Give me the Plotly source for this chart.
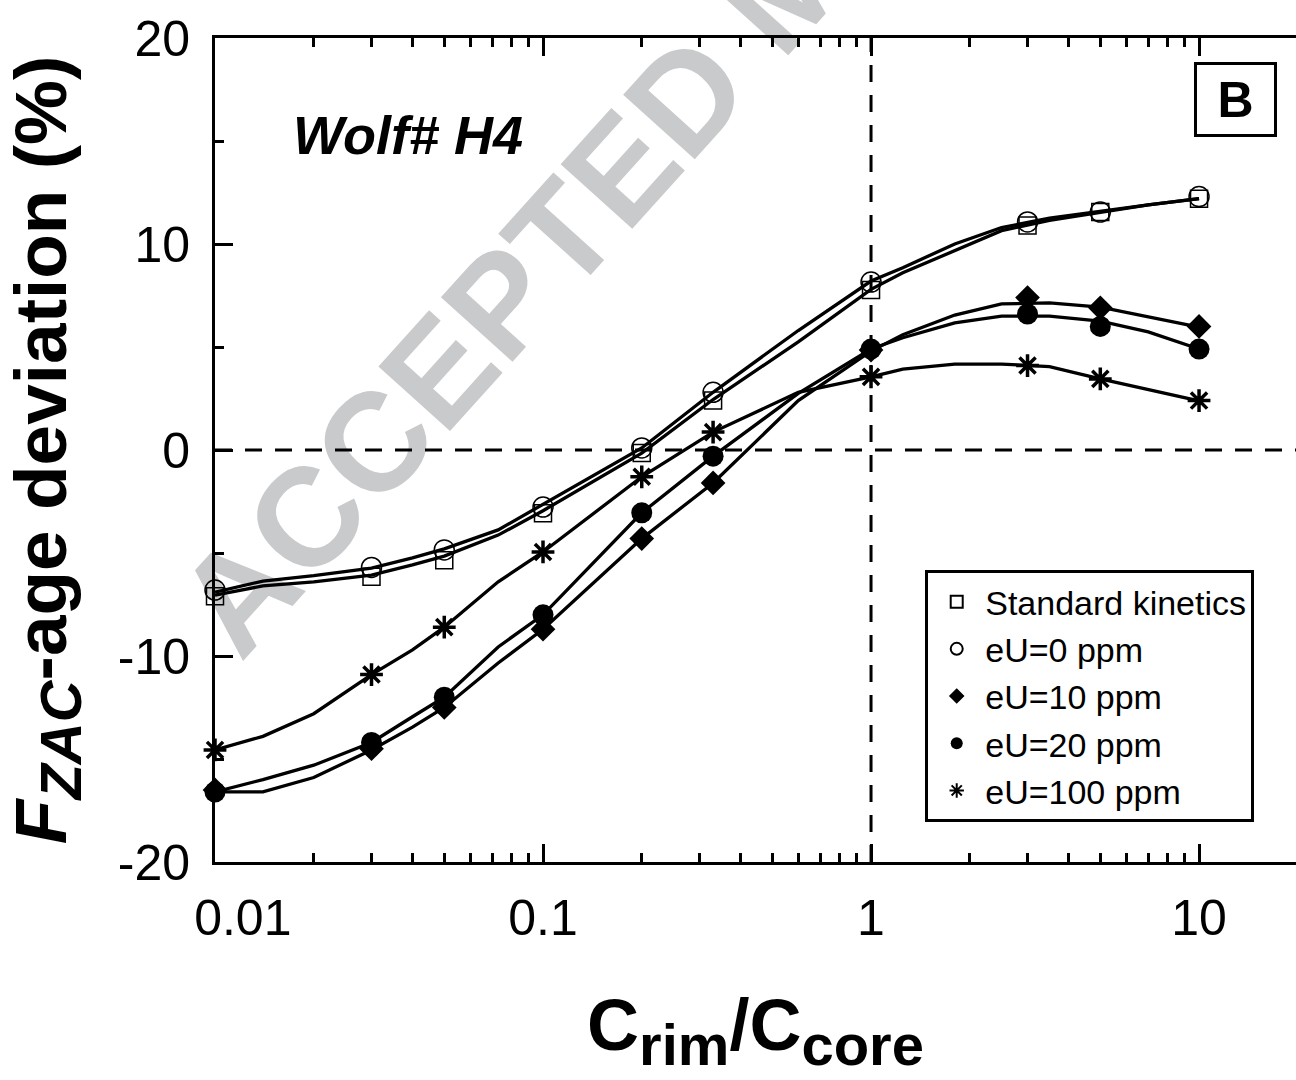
import plotly.graph_objects as go

# ---------------- data ----------------
x_pts = [0.01, 0.03, 0.05, 0.1, 0.2, 0.33, 1, 3, 5, 10]
std_pts = [-7.1, -6.15, -5.35, -3.07, -0.15, 2.4, 7.77, 10.9, 11.55, 12.2]
eu0_pts = [-6.8, -5.7, -4.85, -2.77, 0.1, 2.8, 8.15, 11.07, 11.55, 12.3]
eu10_pts = [-16.5, -14.5, -12.5, -8.7, -4.3, -1.6, 4.85, 7.4, 6.9, 6.0]
eu20_pts = [-16.6, -14.2, -12.0, -8.0, -3.05, -0.3, 4.9, 6.6, 6.0, 4.9]
eu100_pts = [-14.56, -10.9, -8.6, -4.95, -1.3, 0.87, 3.55, 4.1, 3.45, 2.4]

x_line = [0.01, 0.014, 0.02, 0.03, 0.04, 0.05, 0.073, 0.1, 0.2, 0.33, 0.6,
          1, 1.25, 1.8, 2.5, 3.5, 5, 7, 10]
std_line = [-7.05, -6.6, -6.4, -6.07, -5.58, -5.15, -4.13, -2.95, -0.15, 2.45, 5.25,
            7.8, 8.6, 9.7, 10.65, 11.15, 11.55, 11.9, 12.2]
eu0_line = [-6.9, -6.36, -6.1, -5.73, -5.24, -4.8, -3.88, -2.65, 0.1, 2.8, 5.8,
            8.2, 8.85, 10.0, 10.8, 11.25, 11.6, 11.9, 12.2]
eu10_line = [-16.6, -16.6, -15.9, -14.56, -13.45, -12.5, -10.34, -8.7, -4.3, -1.6, 2.4,
             4.8, 5.6, 6.55, 7.09, 7.14, 6.94, 6.46, 5.97]
eu20_line = [-16.6, -16.0, -15.3, -14.2, -12.95, -12.0, -9.56, -8.0, -3.05, -0.3, 2.75,
             4.9, 5.45, 6.17, 6.5, 6.5, 6.26, 5.73, 4.9]
eu100_line = [-14.56, -13.9, -12.8, -10.9, -9.7, -8.6, -6.4, -4.95, -1.3, 0.87, 2.8,
              3.55, 3.93, 4.17, 4.17, 4.05, 3.45, 2.95, 2.38]

series_names = ["Standard kinetics", "eU=0 ppm", "eU=10 ppm", "eU=20 ppm", "eU=100 ppm"]

x_tickvals = [0.01, 0.1, 1, 10]
x_ticktext = ["\u2007\u20070.01", "0.1", "1", "10"]
x_minor = [0.02, 0.03, 0.04, 0.05, 0.06, 0.07, 0.08, 0.09,
           0.2, 0.3, 0.4, 0.5, 0.6, 0.7, 0.8, 0.9,
           2, 3, 4, 5, 6, 7, 8, 9]
y_tickvals = [-20, -10, 0, 10, 20]
y_ticktext = ["-20", "-10", "0", "10", "20"]
y_minor = [-15, -5, 5, 15]

FONT = "Liberation Sans, Arial, Helvetica, sans-serif"

fig = go.Figure()

line_sets = [std_line, eu0_line, eu10_line, eu20_line, eu100_line]
for ys in line_sets:
    fig.add_trace(go.Scatter(x=x_line, y=ys, mode="lines",
                             line=dict(color="black", width=3.3),
                             showlegend=False, hoverinfo="skip"))

marker_styles = [
    dict(symbol="square-open", size=17, color="black", line=dict(color="black", width=1.5)),
    dict(symbol="circle-open", size=20, color="black", line=dict(color="black", width=1.5)),
    dict(symbol="diamond", size=19, color="black", line=dict(color="black", width=0)),
    dict(symbol="circle", size=21, color="black", line=dict(color="black", width=0)),
    dict(symbol="asterisk-open", size=19, color="black", line=dict(color="black", width=3.5)),
]
pt_sets = [std_pts, eu0_pts, eu10_pts, eu20_pts, eu100_pts]
for name, ys, ms in zip(series_names, pt_sets, marker_styles):
    fig.add_trace(go.Scatter(x=x_pts, y=ys, mode="markers", name=name,
                             marker=ms, cliponaxis=False))

# dashed reference lines
fig.add_hline(y=0, line=dict(color="black", width=3, dash="17px,13px"))
fig.add_vline(x=1, line=dict(color="black", width=3, dash="17px,13px"))

# watermark (behind data)
wx, wy = 0.5208, 1.0765
dx, dy = 0.05, 0.05 * 1081 / 824 * 1.11
fig.add_shape(type="line", xref="paper", yref="paper",
              x0=wx - dx, y0=wy - dy, x1=wx + dx, y1=wy + dy,
              line=dict(width=0, color="rgba(0,0,0,0)"), layer="below",
              label=dict(text="<b>ACCEPTED MANUSCRIPT</b>", textangle=-48,
                         textposition="middle", yanchor="middle", xanchor="center",
                         font=dict(family=FONT, size=140, color="#c9cacc")))

fig.add_annotation(x=0.1785, y=0.8823, xref="paper", yref="paper",
                   xanchor="center", yanchor="middle",
                   text="<b><i>Wolf# H4</i></b>", showarrow=False,
                   font=dict(family=FONT, size=54, color="black"))
fig.add_annotation(x=0.9436, y=0.9248, xref="paper", yref="paper",
                   xanchor="center", yanchor="middle",
                   text="<b>B</b>", showarrow=False, width=77, height=69,
                   bordercolor="black", borderwidth=3, borderpad=0, bgcolor="white",
                   font=dict(family=FONT, size=50, color="black"))

fig.update_layout(
    width=1296, height=1080,
    margin=dict(l=215, r=0, t=38, b=218),
    paper_bgcolor="white", plot_bgcolor="white",
    font=dict(family=FONT, color="black"),
    showlegend=True,
    legend=dict(x=0.657, y=0.0485, xanchor="left", yanchor="bottom",
                bordercolor="black", borderwidth=3, bgcolor="white",
                font=dict(family=FONT, size=34, color="black"),
                itemsizing="constant", itemwidth=47, tracegroupgap=0),
    xaxis=dict(type="log", range=[-2, 1.2956],
               tickvals=x_tickvals, ticktext=x_ticktext,
               ticks="inside", ticklen=18, tickwidth=3, tickcolor="black",
               showline=True, linewidth=3, linecolor="black", mirror="ticks",
               showgrid=False, zeroline=False,
               tickfont=dict(family=FONT, size=50, color="black"),
               ticklabelstandoff=10,
               minor=dict(tickvals=x_minor, ticks="inside", ticklen=9, tickwidth=3,
                          tickcolor="black", showgrid=False),
               title=dict(text="<b>C<sub><span style='font-size:58px'>rim</span></sub>/C"
                               "<sub><span style='font-size:58px'>core</span></sub></b>",
                          font=dict(family=FONT, size=72, color="black"), standoff=55)),
    yaxis=dict(range=[-20, 20], tickvals=y_tickvals, ticktext=y_ticktext,
               ticks="inside", ticklen=18, tickwidth=3, tickcolor="black",
               showline=True, linewidth=3, linecolor="black", mirror=False,
               showgrid=False, zeroline=False,
               tickfont=dict(family=FONT, size=50, color="black"),
               ticklabelstandoff=12,
               minor=dict(tickvals=y_minor, ticks="inside", ticklen=9, tickwidth=3,
                          tickcolor="black", showgrid=False),
               title=dict(text="<b><i>F</i><sub><i><span style='font-size:58px'>ZAC</span></i></sub>"
                               "-age deviation (%)</b>",
                          font=dict(family=FONT, size=73, color="black"), standoff=28)),
    yaxis2=dict(overlaying="y", side="right", anchor="x", range=[-20, 20],
                tickvals=y_tickvals, ticks="inside", ticklen=18, tickwidth=3,
                tickcolor="black", showticklabels=False, showline=False,
                showgrid=False, zeroline=False,
                minor=dict(tickvals=y_minor, ticks="inside", ticklen=9, tickwidth=3,
                           tickcolor="black", showgrid=False)),
)

fig.write_html("out.html")
